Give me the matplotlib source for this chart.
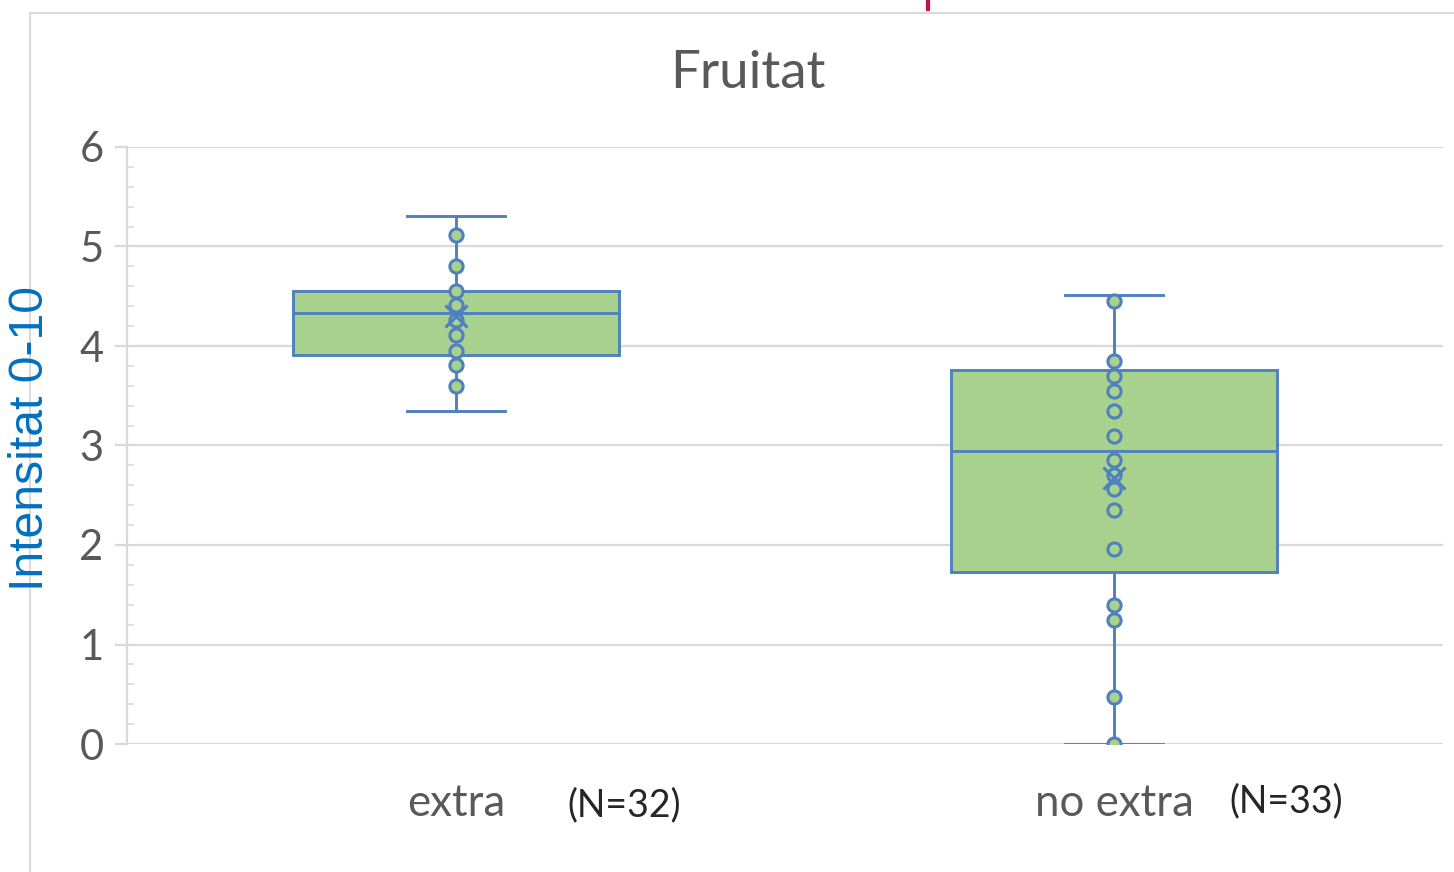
import matplotlib
matplotlib.use("Agg")
import matplotlib.pyplot as plt
from matplotlib.ticker import MultipleLocator
from matplotlib.lines import Line2D

# ---- data ----
categories = ["extra", "no extra"]
n_labels = ["(N=32)", "(N=33)"]
q1 = [3.91, 1.73]
median = [4.33, 2.94]
q3 = [4.55, 3.76]
whisker_low = [3.35, 0.0]
whisker_high = [5.31, 4.51]
means = [4.30, 2.67]
points_extra = [5.12, 4.80, 4.55, 4.41, 4.26, 4.11, 3.95, 3.81, 3.60]
points_noextra = [4.45, 3.85, 3.70, 3.55, 3.35, 3.10, 2.85, 2.70, 2.56, 2.35,
                  1.96, 1.40, 1.25, 0.47, 0.0]
y_ticks = [0, 1, 2, 3, 4, 5, 6]

title = "Fruitat"
ylabel = "Intensitat 0-10"

# ---- style ----
FILL = "#A9D18E"
EDGE = "#4F81BD"
GRID = "#D9D9D9"
TXT = "#595959"
FONT = "Lato"

fig = plt.figure(figsize=(14.54, 8.72), dpi=100)
ax = fig.add_axes([127 / 1454, 1 - 744 / 872, (1443 - 127) / 1454, (744 - 147) / 872])

positions = [1, 2]
stats = []
for i in range(len(categories)):
    stats.append(dict(med=median[i], q1=q1[i], q3=q3[i], whislo=whisker_low[i],
                      whishi=whisker_high[i], mean=means[i], fliers=[], label=categories[i]))

lw = 2.1
ax.bxp(stats, positions=positions, widths=0.495, capwidths=0.15, patch_artist=True,
       showmeans=False, showfliers=False,
       boxprops=dict(facecolor=FILL, edgecolor=EDGE, linewidth=lw),
       medianprops=dict(color=EDGE, linewidth=lw),
       whiskerprops=dict(color=EDGE, linewidth=lw),
       capprops=dict(color=EDGE, linewidth=lw),
       zorder=3)

for pos, pts in zip(positions, [points_extra, points_noextra]):
    ax.plot([pos] * len(pts), pts, linestyle="none", marker="o", markersize=9.5,
            markerfacecolor=FILL, markeredgecolor=EDGE, markeredgewidth=2.2, zorder=4)
# means on top
ax.plot(positions, means, linestyle="none", marker="x", markersize=16,
        markeredgecolor=EDGE, markeredgewidth=2.3, zorder=5)

ax.set_xlim(0.5, 2.5)
ax.set_ylim(0, 6)
ax.set_yticks(y_ticks)
ax.yaxis.set_minor_locator(MultipleLocator(0.2))
ax.grid(axis="y", which="major", color=GRID, linewidth=1.6, zorder=0)
ax.set_axisbelow(True)

for s in ["top", "right", "bottom"]:
    ax.spines[s].set_visible(False)
ax.spines["left"].set_color(GRID)
ax.spines["left"].set_linewidth(1.6)

ax.tick_params(axis="y", which="major", direction="out", length=9, width=1.6, color=GRID,
               labelsize=30, labelcolor=TXT, pad=8)
ax.tick_params(axis="y", which="minor", direction="in", length=5, width=1.2, color=GRID)
ax.tick_params(axis="x", length=0, labelsize=31.5, labelcolor=TXT, pad=43)
ax.set_xticks(positions)
ax.set_xticklabels(categories)
for lab in ax.get_xticklabels() + ax.get_yticklabels():
    lab.set_fontfamily(FONT)
for lab in ax.get_xticklabels():
    lab.set_verticalalignment("center")

# N labels
n_x = [1.255, 2.261]
n_y = [-0.62, -0.575]
for x, y, t in zip(n_x, n_y, n_labels):
    ax.text(x, y, t, ha="center", va="center", fontsize=27, color="#262626",
            fontfamily=FONT, clip_on=False)

fig.text(748 / 1454, 1 - 74 / 872, title, ha="center", va="center", fontsize=38,
         color=TXT, fontfamily=FONT)
fig.text(31 / 1454, 1 - 438 / 872, ylabel, ha="center", va="center", rotation=90,
         fontsize=34.7, color="#0070C0", fontfamily="Liberation Sans")

# chart border (cropped) and small red mark
fig.add_artist(Line2D([30 / 1454, 30 / 1454], [0, 1 - 13 / 872], color=GRID, linewidth=1.5))
fig.add_artist(Line2D([30 / 1454, 1], [1 - 13 / 872, 1 - 13 / 872], color=GRID, linewidth=1.5))
fig.add_artist(Line2D([928 / 1454, 928 / 1454], [1, 1 - 9 / 872], color="#C0143C", linewidth=3))

fig.savefig("out.png", dpi=100)
